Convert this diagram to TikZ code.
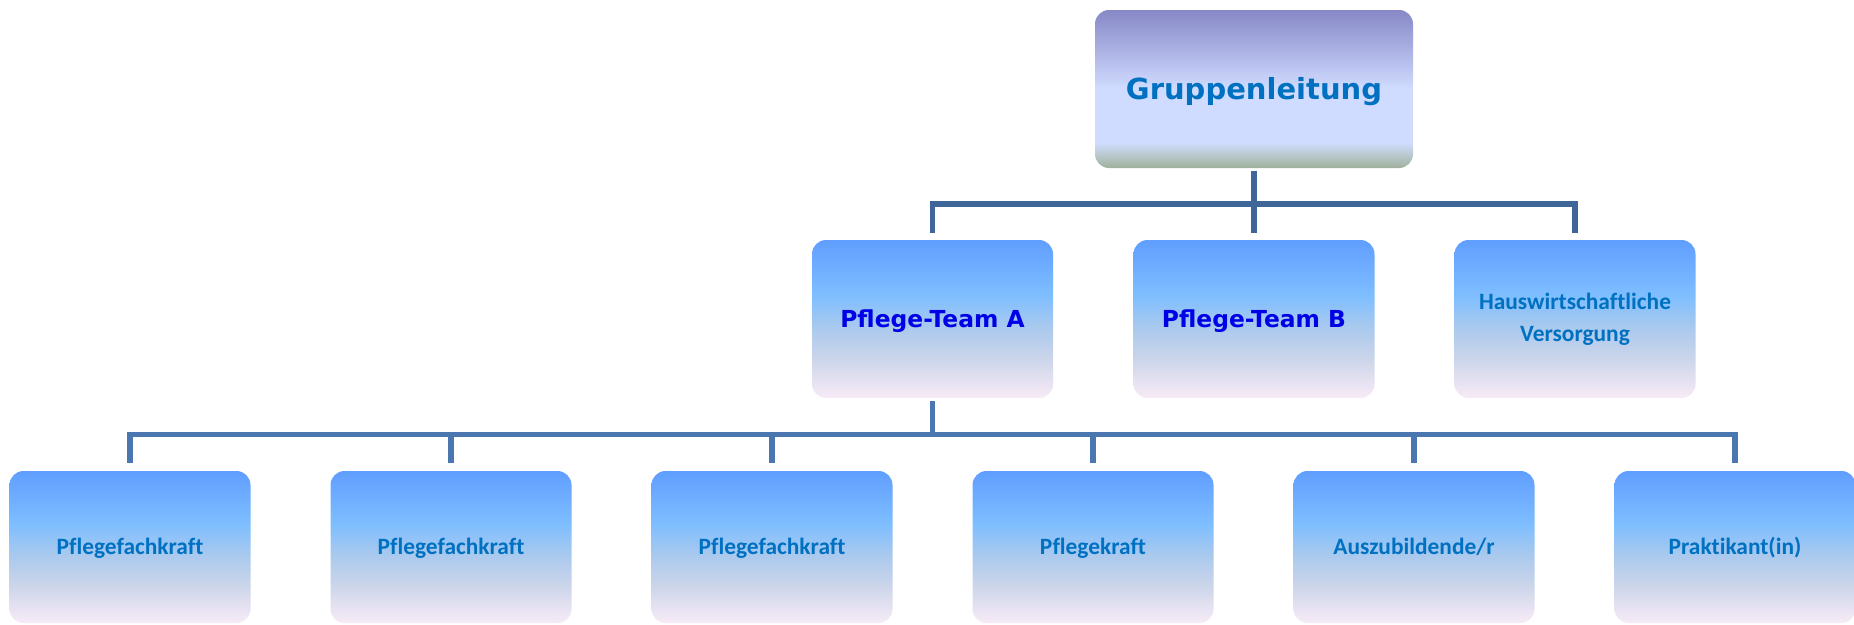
\documentclass[tikz,border=0pt]{standalone}
\usepackage{fontspec}
\usepackage{tikz}
\newfontfamily\verdana{DejaVu Sans}
\newfontfamily\calibri[Ligatures=NoCommon]{Carlito}

\definecolor{linetop}{HTML}{3F6699}
\definecolor{linebot}{HTML}{4A77AF}
\definecolor{textblue}{HTML}{0070C0}
\definecolor{teamblue}{HTML}{0000E6}
% box fill, bottom to top
\definecolor{fillpink}{HTML}{F8EBF7}
\definecolor{fillgrey}{HTML}{CBD5EA}
\definecolor{fillmid}{HTML}{A9C9EE}
\definecolor{filllight}{HTML}{7EBEFF}
\definecolor{filltop}{HTML}{609EFF}
% head fill, bottom to top
\definecolor{headgreen}{HTML}{9FB09C}
\definecolor{headgrey}{HTML}{B8C8CC}
\definecolor{headpale}{HTML}{D0DCFF}
\definecolor{headlav}{HTML}{A6ACDF}
\definecolor{headtop}{HTML}{8788C6}

\pgfdeclareverticalshading{boxfill}{100bp}{color(0bp)=(fillpink); color(25bp)=(fillpink);
  color(37.5bp)=(fillgrey); color(47.5bp)=(fillmid); color(57.5bp)=(filllight);
  color(75bp)=(filltop); color(100bp)=(filltop)}
\pgfdeclareverticalshading{headfill}{100bp}{color(0bp)=(headgreen); color(25bp)=(headgreen);
  color(29bp)=(headgrey); color(33bp)=(headpale); color(50bp)=(headpale);
  color(64bp)=(headlav); color(75bp)=(headtop); color(100bp)=(headtop)}

\begin{document}
\begin{tikzpicture}[x=1pt,y=-1pt,
    box/.style={shade, shading=boxfill, rounded corners=14pt, inner sep=0pt,
      align=center, minimum width=241pt, minimum height=158pt},
    headbox/.style={box, shading=headfill, minimum width=318pt,
      font={\verdana\bfseries\fontsize{29}{35}\selectfont}, text=textblue,
      text height=21pt, text depth=0pt},
    teamtext/.style={font={\verdana\bfseries\fontsize{23.4}{28}\selectfont}, text=teamblue,
      text height=17pt, text depth=0pt},
    unittext/.style={font={\calibri\bfseries\fontsize{23.4}{32}\selectfont}, text=textblue},
    staffbox/.style={box, unittext, minimum height=152pt, text height=15pt, text depth=0pt},
    linkup/.style={draw=linetop, line width=5.7pt},
    linkdown/.style={draw=linebot, line width=5.7pt}]
  \useasboundingbox (0,0) rectangle (1854,624);

  % head
  \node[headbox] (gl) at (1254,89) {Gruppenleitung};

  % teams
  \node[box, teamtext] (ta) at (932.5,319) {Pflege-Team A};
  \node[box, teamtext] (tb) at (1254,319) {Pflege-Team B};
  \node[box, unittext] (hw) at (1575,319) {Hauswirtschaftliche\\Versorgung};

  % staff of team A
  \node[staffbox] (fk1) at (130,547) {Pflegefachkraft};
  \node[staffbox] (fk2) at (451,547) {Pflegefachkraft};
  \node[staffbox] (fk3) at (772,547) {Pflegefachkraft};
  \node[staffbox] (pf) at (1093,547) {Pflegekraft};
  \node[staffbox] (az) at (1414,547) {Auszubildende/r};
  \node[staffbox] (pk) at (1735,547) {Praktikant(in)};

  % upper bus
  \coordinate (bus1) at (1254,204);
  \draw[linkup, shorten <=3pt, shorten >=7pt] (gl) -- (tb);
  \draw[linkup, shorten <=7pt, shorten >=7pt] (ta.north) |- (bus1) -| (hw.north);

  % lower bus
  \coordinate (bus2) at (932.5,434.5);
  \draw[linkdown, shorten <=3pt] (ta.south) -- (bus2);
  \draw[linkdown, shorten <=8pt, shorten >=8pt] (fk1.north) |- (bus2) -| (pk.north);
  \draw[linkdown, shorten >=8pt] (bus2 -| fk2.north) -- (fk2.north);
  \draw[linkdown, shorten >=8pt] (bus2 -| fk3.north) -- (fk3.north);
  \draw[linkdown, shorten >=8pt] (bus2 -| pf.north) -- (pf.north);
  \draw[linkdown, shorten >=8pt] (bus2 -| az.north) -- (az.north);

\end{tikzpicture}
\end{document}
